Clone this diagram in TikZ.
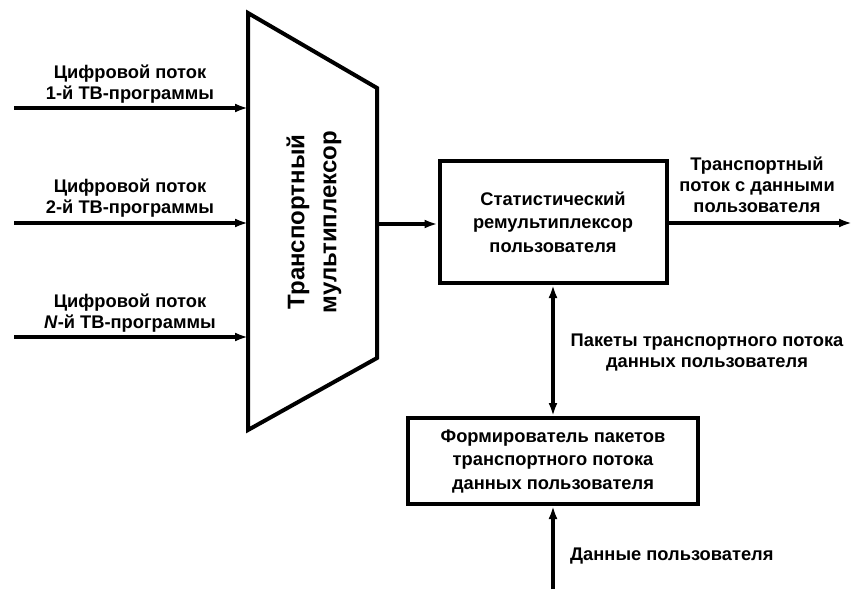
\documentclass[tikz,border=0pt]{standalone}
\usepackage{fontspec}
\setmainfont{Liberation Sans}
\usetikzlibrary{arrows.meta,positioning}
\tikzset{
  blok/.style={draw, line width=4pt, align=center, inner sep=0pt,
    font=\bfseries\fontsize{18.3}{23.5}\selectfont},
  strelka/.style={line width=3.2pt, -{Latex[length=13pt,width=9pt]}},
  nadpis/.style={align=center, inner sep=0pt, font=\bfseries\fontsize{18.3}{21}\selectfont}
}
\begin{document}
\begin{tikzpicture}[x=1pt,y=-1pt]
  \useasboundingbox (0,0) rectangle (854,589);
  % transport multiplexer (trapezoid)
  \coordinate (mlt) at (248,13);
  \coordinate (mrt) at (377,88);
  \coordinate (mrb) at (377,358);
  \coordinate (mlb) at (248,430);
  \draw[line width=4pt, line join=miter] (mlt) -- (mrt) -- (mrb) -- (mlb) -- cycle;
  \node[rotate=90, align=center, font=\bfseries\fontsize{24}{32}\selectfont] (mux) at (314,222)
    {Транспортный\\мультиплексор};
  % inputs
  \coordinate (in1) at (14,108);
  \coordinate (in2) at (14,223);
  \coordinate (inN) at (14,337);
  \draw[strelka] (in1) -- (in1 -| mlt);
  \draw[strelka] (in2) -- (in2 -| mlt);
  \draw[strelka] (inN) -- (inN -| mlt);
  \node[nadpis] (lbl1) at (130,84) {Цифровой поток\\1-й ТВ-программы};
  \node[nadpis] (lbl2) at (130,198) {Цифровой поток\\2-й ТВ-программы};
  \node[nadpis] (lblN) at (130,313) {Цифровой поток\\\textit{N}-й ТВ-программы};
  % blocks
  \node[blok, minimum width=227pt, minimum height=122pt] (remux) at (553,222)
    {Статистический\\ремультиплексор\\пользователя};
  \node[blok, minimum width=290pt, minimum height=86pt] (form) at (553,461)
    {Формирователь пакетов\\транспортного потока\\данных пользователя};
  \coordinate (muxout) at (377,224);
  \coordinate (out) at (852,223);
  \coordinate (dan) at (553,589);
  \draw[strelka] (muxout) -- (muxout -| remux.west);
  \draw[strelka] (remux.east |- out) -- (out);
  \draw[strelka, {Latex[length=13pt,width=9pt]}-{Latex[length=13pt,width=9pt]}] (remux.south) -- (form.north);
  \draw[strelka] (dan) -- (form.south);
  % labels
  \node[nadpis] (lblout) at (757,185) {Транспортный\\поток с данными\\пользователя};
  \node[nadpis] (lblpak) at (707,353) {Пакеты транспортного потока\\данных пользователя};
  \node[nadpis, anchor=west] (lbldan) at (570,556) {Данные пользователя};
\end{tikzpicture}
\end{document}
